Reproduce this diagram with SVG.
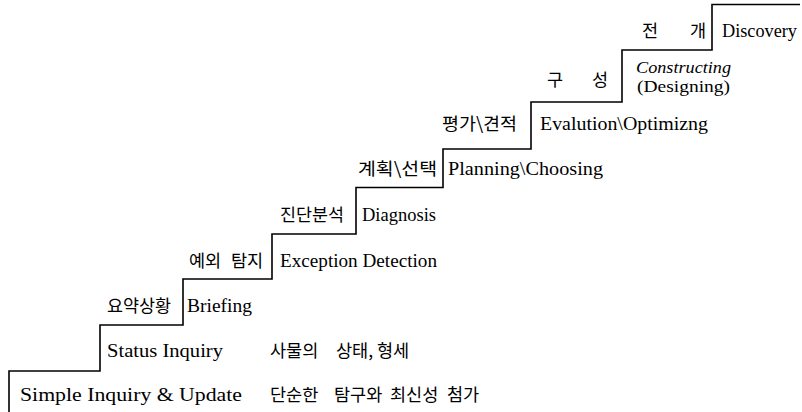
<svg xmlns="http://www.w3.org/2000/svg" width="802" height="412" viewBox="0 0 802 412">
<style>
.en{font-family:"Liberation Serif","Times New Roman",serif;font-size:19.5px;fill:#000}
.sm{font-size:16px}
.ko{font-family:"Noto Sans CJK KR","Noto Sans",sans-serif;font-size:17.5px;fill:#000}
.stair{fill:none;stroke:#000;stroke-width:1.6}
</style>
<rect width="802" height="412" fill="#fff"/>
<g id="connectors">
<path class="stair" d="M9,412 V371 H100 V325 H183 V279 H272 V234 H356 V187.5 H443 V149 H531 V102 H622 V50 H712 V4.5 H800"/>
</g>
<g id="step-simple-inquiry">
<text class="en" x="20" y="401" textLength="222" lengthAdjust="spacingAndGlyphs">Simple Inquiry &amp; Update</text>
<text class="ko" y="401"><tspan x="270">단순한</tspan><tspan x="334">탐구와</tspan><tspan x="390">최신성</tspan><tspan x="447">첨가</tspan></text>
</g>
<g id="step-status-inquiry">
<text class="en" x="107" y="357" textLength="116" lengthAdjust="spacingAndGlyphs">Status Inquiry</text>
<text class="ko" y="357"><tspan x="270">사물의</tspan><tspan x="336">상태,</tspan><tspan x="377">형세</tspan></text>
</g>
<g id="step-briefing">
<text class="ko" x="107" y="312" textLength="64" lengthAdjust="spacingAndGlyphs">요약상황</text>
<text class="en" x="187" y="312" textLength="65" lengthAdjust="spacingAndGlyphs">Briefing</text>
</g>
<g id="step-exception-detection">
<text class="ko" y="267"><tspan x="189">예외</tspan><tspan x="231">탐지</tspan></text>
<text class="en" x="280" y="267" textLength="157" lengthAdjust="spacingAndGlyphs">Exception Detection</text>
</g>
<g id="step-diagnosis">
<text class="ko" x="280" y="221" textLength="64" lengthAdjust="spacingAndGlyphs">진단분석</text>
<text class="en" x="362" y="221" textLength="74" lengthAdjust="spacingAndGlyphs">Diagnosis</text>
</g>
<g id="step-planning">
<text class="ko" x="358" y="175" textLength="79" lengthAdjust="spacingAndGlyphs">계획\선택</text>
<text class="en" x="448" y="175" textLength="155" lengthAdjust="spacingAndGlyphs">Planning\Choosing</text>
</g>
<g id="step-evaluation">
<text class="ko" x="442" y="130" textLength="75" lengthAdjust="spacingAndGlyphs">평가\견적</text>
<text class="en" x="540" y="130" textLength="168" lengthAdjust="spacingAndGlyphs">Evalution\Optimizng</text>
</g>
<g id="step-constructing">
<text class="ko" y="86"><tspan x="547">구</tspan><tspan x="592">성</tspan></text>
<text class="en sm" x="636" y="73" font-style="italic" textLength="95" lengthAdjust="spacingAndGlyphs">Constructing</text>
<text class="en sm" x="637" y="92" textLength="93" lengthAdjust="spacingAndGlyphs">(Designing)</text>
</g>
<g id="step-discovery">
<text class="ko" y="37"><tspan x="642">전</tspan><tspan x="690">개</tspan></text>
<text class="en" x="722" y="37" style="font-size:18px" textLength="75" lengthAdjust="spacingAndGlyphs">Discovery</text>
</g>
</svg>
